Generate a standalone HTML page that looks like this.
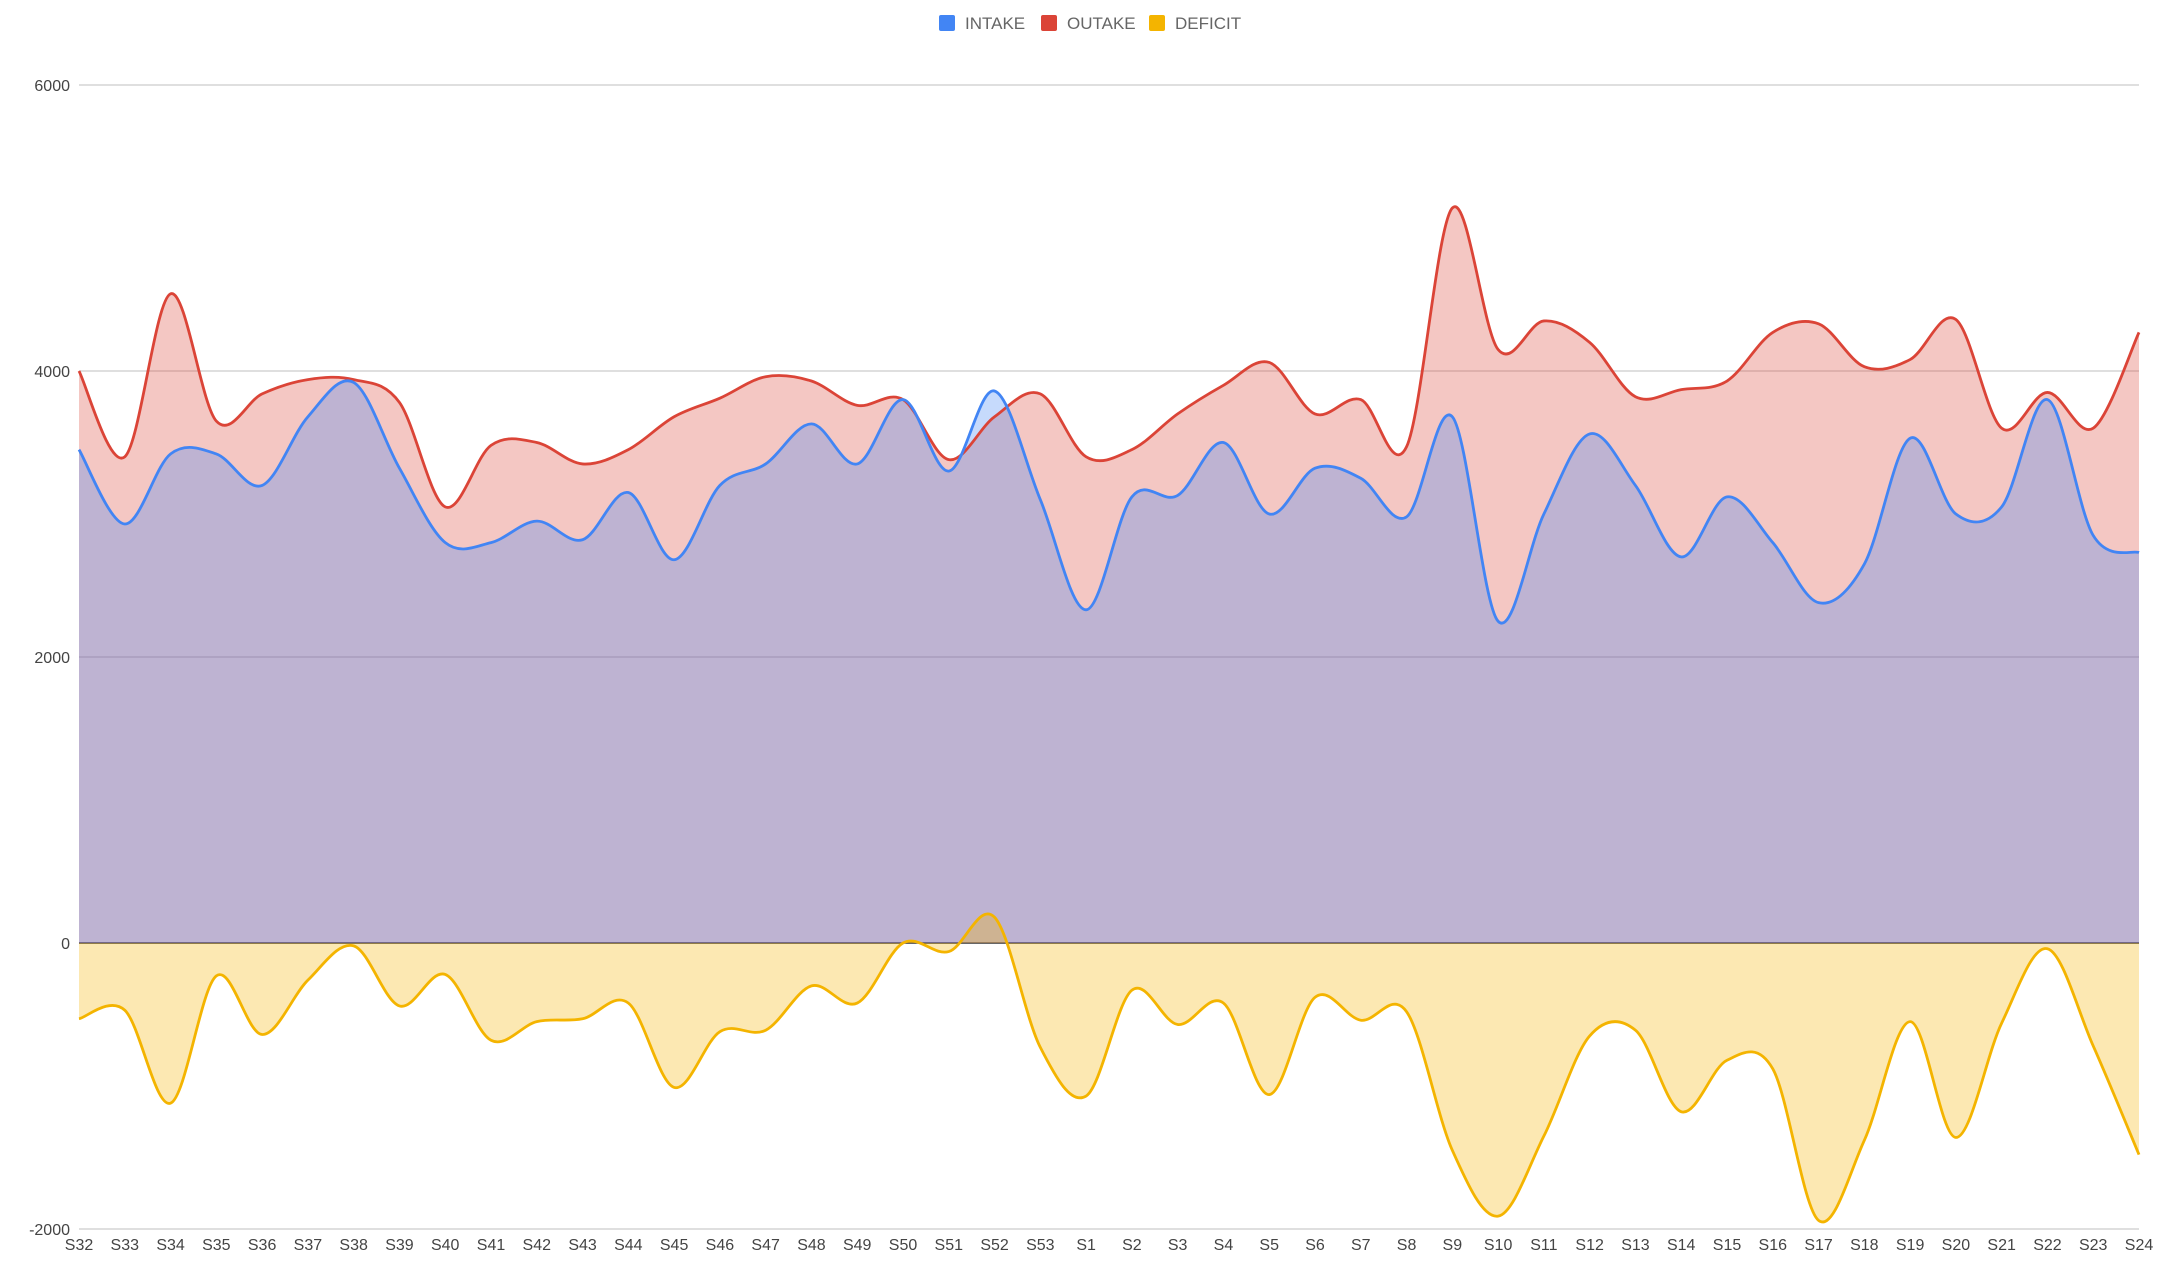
<!DOCTYPE html>
<html><head><meta charset="utf-8"><style>
body{margin:0;background:#fff;}
svg{display:block;font-family:"Liberation Sans",Arial,sans-serif;}
</style></head><body>
<svg id="chart" width="2162" height="1266">
<g id="grid"></g><g id="areas"></g><g id="lines"></g><g id="axes"></g>
<g>
<g><rect x="939" y="15" width="16" height="16" rx="2" fill="#4285f4"/><text x="965" y="29" font-size="17" fill="#666">INTAKE</text></g>
<g><rect x="1041" y="15" width="16" height="16" rx="2" fill="#db4437"/><text x="1067" y="29" font-size="17" fill="#666">OUTAKE</text></g>
<g><rect x="1149" y="15" width="16" height="16" rx="2" fill="#f4b400"/><text x="1175" y="29" font-size="17" fill="#666">DEFICIT</text></g>
</g>
</svg>
<script>
const categories=["S32","S33","S34","S35","S36","S37","S38","S39","S40","S41","S42","S43","S44","S45","S46","S47","S48","S49","S50","S51","S52","S53","S1","S2","S3","S4","S5","S6","S7","S8","S9","S10","S11","S12","S13","S14","S15","S16","S17","S18","S19","S20","S21","S22","S23","S24"];
const intake=[3450,2930,3420,3420,3200,3680,3920,3320,2800,2800,2950,2820,3150,2680,3200,3350,3630,3350,3800,3300,3860,3100,2330,3120,3130,3500,3000,3320,3250,2980,3680,2250,3000,3560,3200,2700,3120,2800,2380,2650,3530,3000,3050,3800,2850,2730];
const outake=[4000,3400,4540,3650,3840,3940,3940,3780,3050,3480,3500,3350,3450,3680,3810,3960,3930,3760,3800,3380,3680,3840,3400,3450,3700,3900,4060,3700,3800,3470,5140,4150,4350,4200,3820,3870,3930,4270,4330,4030,4080,4360,3600,3850,3600,4270];
const deficit=[-530,-470,-1120,-230,-640,-260,-20,-440,-220,-680,-550,-530,-420,-1010,-620,-610,-300,-420,0,-60,180,-730,-1070,-330,-570,-420,-1060,-380,-540,-480,-1450,-1910,-1350,-650,-610,-1180,-820,-880,-1940,-1380,-550,-1360,-560,-40,-720,-1480];
const yTicks=[6000,4000,2000,0,-2000];
const NS="http://www.w3.org/2000/svg";
const x0=79,x1=2139,yTop=85,yBot=1229,vMax=6000,vMin=-2000;
const xs=i=>x0+(x1-x0)*i/(categories.length-1);
const ys=v=>yTop+(vMax-v)/(vMax-vMin)*(yBot-yTop);
function mk(tag,attrs,parent){const e=document.createElementNS(NS,tag);for(const k in attrs)e.setAttribute(k,attrs[k]);parent.appendChild(e);return e;}
function curve(vals){const p=vals.map((v,i)=>[xs(i),ys(v)]);let d="M"+p[0][0]+","+p[0][1];const t=1/6;
for(let i=0;i<p.length-1;i++){const a=p[Math.max(i-1,0)],b=p[i],c=p[i+1],e=p[Math.min(i+2,p.length-1)];
d+=" C"+(b[0]+(c[0]-a[0])*t)+","+(b[1]+(c[1]-a[1])*t)+" "+(c[0]-(e[0]-b[0])*t)+","+(c[1]-(e[1]-b[1])*t)+" "+c[0]+","+c[1];}return d;}
const grid=document.getElementById('grid'),areas=document.getElementById('areas'),lines=document.getElementById('lines'),axes=document.getElementById('axes');
yTicks.forEach(v=>{
const l=mk('line',{x1:x0,x2:x1,y1:ys(v),y2:ys(v),stroke:v===0?'#333':'#ccc','stroke-width':v===0?1.4:1.2},grid);


const t=mk('text',{x:70,y:ys(v)+6,'text-anchor':'end','font-size':16,fill:'#444'},axes);t.textContent=v;


});
categories.forEach((c,i)=>{const t=mk('text',{x:xs(i),y:1250,'text-anchor':'middle','font-size':16,fill:'#444'},axes);t.textContent=c;

});
const base=ys(0);
[[outake,'#db4437','outake'],[intake,'#4285f4','intake'],[deficit,'#f4b400','deficit']].forEach(([vals,col,n])=>{
const d=curve(vals);
const a=mk('path',{d:d+" L"+x1+","+base+" L"+x0+","+base+" Z",fill:col,'fill-opacity':0.3},areas);


const l=mk('path',{d:d,fill:'none',stroke:col,'stroke-width':2.8},lines);


});
</script>
</body></html>
